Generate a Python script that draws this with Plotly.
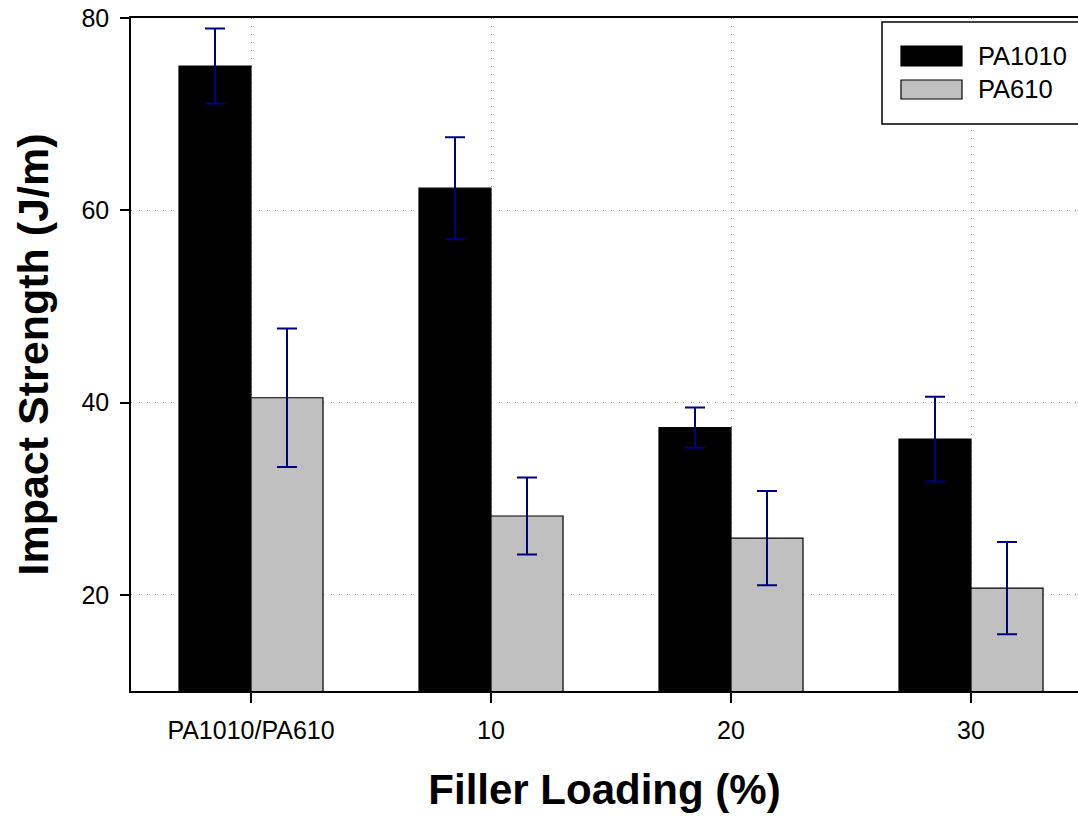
import plotly.graph_objects as go

categories = ["PA1010/PA610", "10", "20", "30"]
pa1010 = [75.0, 62.3, 37.4, 36.2]
pa1010_err = [3.9, 5.3, 2.1, 4.4]
pa610 = [40.5, 28.2, 25.9, 20.7]
pa610_err = [7.2, 4.0, 4.9, 4.8]
y_ticks = [20, 40, 60, 80]
series_names = ["PA1010", "PA610"]
series_colors = ["#000000", "#c0c0c0"]

W, H = 1078, 817
ML, MR, MT, MB = 131, 0, 18, 817 - 691
PW, PH = W - ML - MR, H - MT - MB
FONT = "Liberation Sans, Arial, Helvetica, sans-serif"


def px(x):
    return (x - ML) / PW


def py(y):
    return (H - MB - y) / PH


fig = go.Figure()
for name, vals, errs, col in [
    (series_names[0], pa1010, pa1010_err, series_colors[0]),
    (series_names[1], pa610, pa610_err, series_colors[1]),
]:
    fig.add_trace(go.Bar(
        name=name, x=categories, y=vals,
        marker=dict(color=col, line=dict(color="#000000", width=1.2)),
        error_y=dict(type="data", array=errs, color="#000080", thickness=2, width=10),
        showlegend=False,
    ))

# legend box and entries (drawn as layout decorations)
shapes = [
    dict(type="rect", xref="paper", yref="paper", x0=px(882), x1=px(1110), y0=py(124), y1=py(22),
         line=dict(color="black", width=1.5), fillcolor="white", layer="above"),
    dict(type="rect", xref="paper", yref="paper", x0=px(901), x1=px(962), y0=py(66), y1=py(46),
         line=dict(color="black", width=1.2), fillcolor=series_colors[0], layer="above"),
    dict(type="rect", xref="paper", yref="paper", x0=px(901), x1=px(962), y0=py(99), y1=py(80),
         line=dict(color="black", width=1.2), fillcolor=series_colors[1], layer="above"),
]
annotations = [
    dict(text=series_names[0], xref="paper", yref="paper", x=px(976), y=py(56), xanchor="left",
         yanchor="middle", showarrow=False, font=dict(size=25.5, color="black", family=FONT)),
    dict(text=series_names[1], xref="paper", yref="paper", x=px(976), y=py(89), xanchor="left",
         yanchor="middle", showarrow=False, font=dict(size=25.5, color="black", family=FONT)),
]

axis_common = dict(
    showline=True, linecolor="black", linewidth=1.5,
    ticks="outside", tickcolor="black", tickwidth=1.5,
    showgrid=True, gridcolor="#808080", gridwidth=1.3, griddash="1px,7px",
    tickfont=dict(size=25, color="black", family=FONT),
    zeroline=False, ticklabelstandoff=6,
)

fig.update_layout(
    width=W, height=H,
    margin=dict(l=ML, r=MR, t=MT, b=MB),
    paper_bgcolor="white", plot_bgcolor="white",
    barmode="group", bargap=0.4, bargroupgap=0,
    font=dict(family=FONT, color="black"),
    shapes=shapes, annotations=annotations,
    xaxis=dict(
        type="category", range=[-0.5, -0.5 + PW / 240.0], mirror=True, ticklen=10,
        title=dict(text="<b>Filler Loading (%)</b>", font=dict(size=42, color="black", family=FONT), standoff=32),
        **axis_common,
    ),
    yaxis=dict(
        range=[10, 80], tickvals=y_ticks, ticklen=9,
        title=dict(text="<b>Impact Strength (J/m)</b>", font=dict(size=43, color="black", family=FONT), standoff=19),
        **axis_common,
    ),
)

fig.write_html("out.html", config={"displayModeBar": False},
               post_script="document.body.style.margin='0px';")
